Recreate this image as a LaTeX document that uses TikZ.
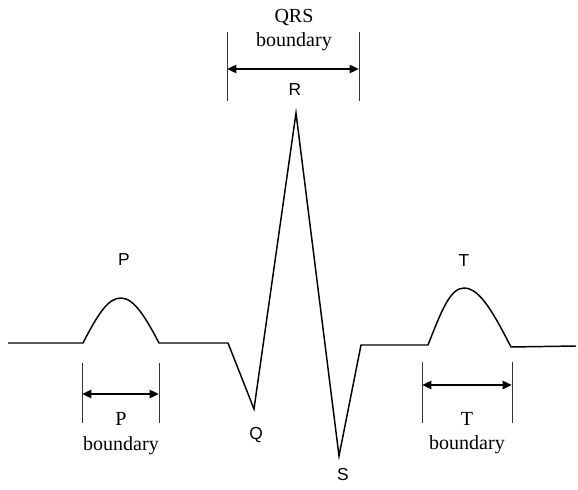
\documentclass[tikz,border=0pt]{standalone}
\usepackage{fontspec}
\setmainfont{Liberation Serif}
\newfontfamily\labfont{Liberation Sans}
\usetikzlibrary{arrows.meta}
\begin{document}
\begin{tikzpicture}[x=0.75pt,y=-0.75pt,
  wave/.style={line width=1.1pt,line join=miter},
  bline/.style={line width=0.5pt,black!80},
  barrow/.style={line width=2pt,{Triangle[length=7pt,width=6pt]}-{Triangle[length=7pt,width=6pt]}},
  wlabel/.style={font=\labfont\fontsize{13}{15}\selectfont,inner sep=0pt},
  blabel/.style={font=\fontsize{15}{18}\selectfont,inner sep=0pt,anchor=base}]
\useasboundingbox (0,0) rectangle (578,489);
% waveform points
\coordinate (a0) at (8,343);
\coordinate (p0) at (83,343);
\coordinate (p1) at (121,298);
\coordinate (p2) at (159,343);
\coordinate (q0) at (228,343);
\coordinate (q) at (254,409);
\coordinate (r) at (296,113);
\coordinate (s) at (339,456);
\coordinate (s1) at (361,345);
\coordinate (t0) at (428,345);
\coordinate (t1) at (464,288);
\coordinate (t2) at (511,347);
\coordinate (e) at (576,346);
\draw[wave] (a0) -- (p0) .. controls (98,314) and (108,298) .. (p1)
  .. controls (134,298) and (146,318) .. (p2) -- (q0) -- (q) -- (r) -- (s) -- (s1) -- (t0)
  .. controls (441,312) and (450,288) .. (t1)
  .. controls (480,288) and (494,314) .. (t2) -- (e);
% P boundary
\coordinate (pl1) at (82,363); \coordinate (pl2) at (82,423);
\coordinate (pr1) at (159,363); \coordinate (pr2) at (159,423);
\draw[bline] (pl1) -- (pl2);
\draw[bline] (pr1) -- (pr2);
\coordinate (pa1) at (82,394); \coordinate (pa2) at (159,394);
\draw[barrow] (pa1) -- (pa2);
\node[blabel] (pb1) at (121,425) {P};
\node[blabel] (pb2) at (121,450) {boundary};
% QRS boundary
\coordinate (ql1) at (227,32); \coordinate (ql2) at (227,101);
\coordinate (qr1) at (359,32); \coordinate (qr2) at (359,101);
\draw[bline] (ql1) -- (ql2);
\draw[bline] (qr1) -- (qr2);
\coordinate (qa1) at (227,69); \coordinate (qa2) at (359,69);
\draw[barrow] (qa1) -- (qa2);
\node[blabel] (qb1) at (294,22) {QRS};
\node[blabel] (qb2) at (294,46) {boundary};
% T boundary
\coordinate (tl1) at (422,362); \coordinate (tl2) at (422,423);
\coordinate (tr1) at (512,362); \coordinate (tr2) at (512,423);
\draw[bline] (tl1) -- (tl2);
\draw[bline] (tr1) -- (tr2);
\coordinate (ta1) at (422,385); \coordinate (ta2) at (512,385);
\draw[barrow] (ta1) -- (ta2);
\node[blabel] (tb1) at (467,425) {T};
\node[blabel] (tb2) at (467,449) {boundary};
% wave labels
\node[wlabel] (lp) at (124,260) {P};
\node[wlabel] (lq) at (256,435.5) {Q};
\node[wlabel] (lr) at (295,89.5) {R};
\node[wlabel] (ls) at (343,474.5) {S};
\node[wlabel] (lt) at (464,260.5) {T};
\end{tikzpicture}
\end{document}
